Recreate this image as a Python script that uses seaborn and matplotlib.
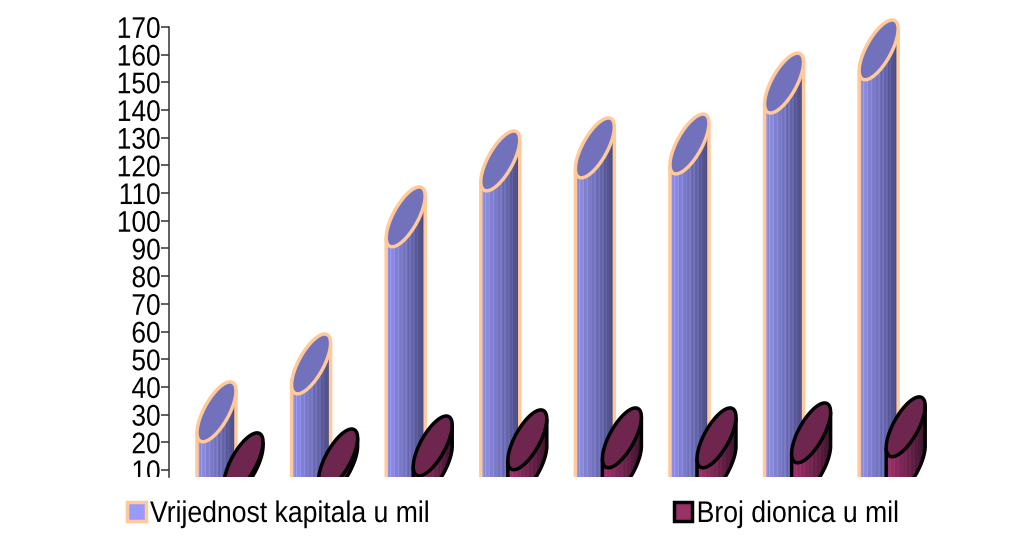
import numpy as np
import pandas as pd
import matplotlib
matplotlib.use("Agg")
import matplotlib.pyplot as plt
from matplotlib.patches import Polygon, Patch
from matplotlib.patheffects import AbstractPathEffect
from matplotlib.transforms import Bbox, Affine2D
import seaborn as sns

sns.set_theme(style="white")
plt.rcParams['font.family'] = ['Liberation Sans', 'DejaVu Sans']

names = ["Vrijednost kapitala u mil", "Broj dionica u mil"]
capital = [41.8, 59.1, 112.2, 132.4, 137.1, 138.5, 160.5, 172.5]
shares = [23.4, 24.8, 29.5, 31.7, 32.4, 32.4, 34.2, 36.4]
periods = list(range(8))
yticks = list(range(10, 180, 10))


class Condense(AbstractPathEffect):
    """Draw real text horizontally condensed, as in the reference's squeezed lettering."""
    def __init__(self, sx, right=False):
        super().__init__()
        self.sx, self.right = sx, right

    def draw_path(self, renderer, gc, tpath, affine, rgbFace=None):
        x0 = tpath.get_extents().x1 if self.right else 0
        t = Affine2D().translate(-x0, 0).scale(self.sx, 1).translate(x0, 0)
        renderer.draw_path(gc, tpath, t + affine, rgbFace)


fig = plt.figure(figsize=(10.11, 5.45), dpi=100, facecolor="white")
ax = fig.add_axes([169/1011, 68/545, 791/1011, 477/545])

YLO, YHI = 7.47, 179.7
XLO, XHI = -0.645, 7.717
OFF = 0.143
BW = 0.412
ELL_H = 21.6      # ellipse full height in value units
BASE = 11.1       # centre of the cylinders' base ellipse
PHI = np.deg2rad(46)

styles = [
    dict(top="#7272BC", edge="#FFC999", light=(0.58, 0.58, 0.93), dark=(0.29, 0.29, 0.50), leg="#9999FF"),
    dict(top="#6E254E", edge="#000000", light=(0.62, 0.20, 0.42), dark=(0.24, 0.08, 0.18), leg="#993366"),
]


def ellipse(cx, cy, a, b, t0=0.0, t1=2*np.pi):
    t = np.linspace(t0, t1, 121)
    return np.column_stack([cx + a*np.cos(t), cy + b*np.cos(t - PHI)])


for idx, (vals, sign, st) in enumerate(zip([capital, shares], [-1, 1], styles)):
    z = 2 + idx*5
    n0 = len(ax.patches)
    df = pd.DataFrame({"x": np.array(periods) + sign*OFF, "y": vals})
    sns.barplot(data=df, x="x", y="y", native_scale=True, width=BW, color=st["leg"],
                saturation=1, linewidth=0, ax=ax, zorder=z)
    for bar in ax.patches[n0:]:
        l, w, top = bar.get_x(), bar.get_width(), bar.get_height()
        r = l + w
        cx = l + w/2
        cy = top - ELL_H/2
        a, b = w/2, ELL_H/2
        yl = cy - b*np.cos(PHI)
        yr = cy + b*np.cos(PHI)
        arc = ellipse(cx, BASE, a, b, 0, -np.pi)      # right -> underside -> left
        outline = np.vstack([[(r, yr)], arc, [(l, yl)]])
        body = Polygon(outline, closed=True, transform=ax.transData, fc="none", ec="none")
        ax.add_patch(body)
        bar.set_clip_path(body)
        # shaded, ribbed side of the cylinder
        ns = 30
        f = np.linspace(0, 1, ns)**1.1
        ribs = 1 + 0.10*(np.arange(ns) % 3 == 0) - 0.05*(np.arange(ns) % 5 == 2)
        col = np.array([(1-f)*st["light"][k] + f*st["dark"][k] for k in range(3)]).T * ribs[:, None]
        im = ax.imshow(np.clip(col, 0, 1)[None, :, :], extent=(l, r, YLO, top), aspect="auto",
                       interpolation="nearest", zorder=z+1)
        im.set_clip_path(body)
        ax.plot(outline[:, 0], outline[:, 1], color=st["edge"], lw=2.5, zorder=z+2, solid_capstyle="butt")
        ax.add_patch(Polygon(ellipse(cx, cy, a, b), closed=True, fc=st["top"], ec=st["edge"],
                             lw=2.5, zorder=z+3, joinstyle="round"))

ax.set_xlim(XLO, XHI)
ax.set_ylim(YLO, YHI)
ax.set_aspect("auto")
ax.patch.set_alpha(0)
ax.set_xlabel("")
ax.set_ylabel("")
ax.set_xticks([])
ax.set_yticks(yticks)
ax.tick_params(axis="y", left=True, length=6, width=1.1, color="#333333", labelsize=21.5,
               labelcolor="black", pad=0)
for lab in ax.get_yticklabels():
    lab.set_clip_on(True)
    lab.set_clip_box(Bbox([[0, 68], [1011, 545]]))
    lab.set_path_effects([Condense(0.88, right=True)])
for s in ["top", "right", "bottom"]:
    ax.spines[s].set_visible(False)
ax.spines["left"].set_color("#333333")
ax.spines["left"].set_linewidth(1.1)
ax.spines["left"].set_bounds(YLO, 170)

handles = [Patch(fc=st["leg"], ec=st["edge"], lw=2.5) for st in styles]
leg = fig.legend(handles, names, ncols=2, loc="lower left", bbox_to_anchor=(127/1011, 17/545),
                 frameon=False, fontsize=21.5, handlelength=0.62, handleheight=0.62, handletextpad=0.15,
                 columnspacing=7.0, borderpad=0, borderaxespad=0, labelcolor="black")
for t in leg.get_texts():
    t.set_path_effects([Condense(0.89)])

fig.savefig("out.png", dpi=100, facecolor="white")
